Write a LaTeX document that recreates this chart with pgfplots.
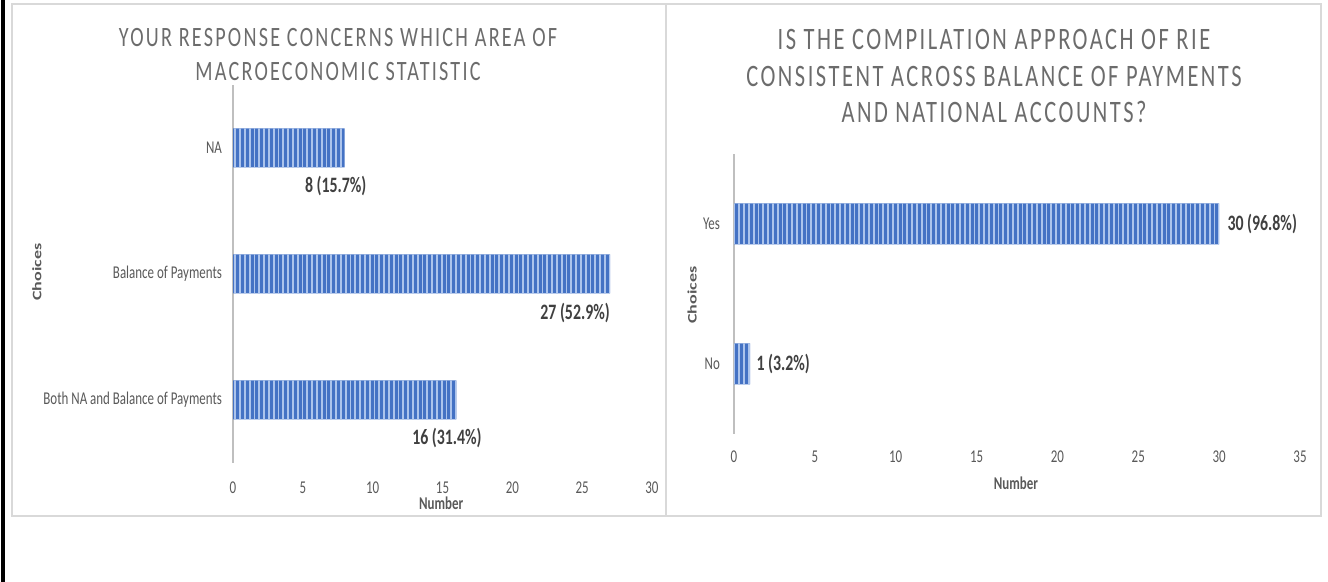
\documentclass[border=0pt]{standalone}
\usepackage{pgfplots}
\pgfplotsset{compat=1.18}
\usetikzlibrary{patterns.meta}
\usepackage{fontspec}
\setmainfont{Carlito}[FakeStretch=0.72]
\newfontfamily\widefont{Carlito}
\newfontfamily\titlefont{Carlito}[FakeStretch=0.72,LetterSpace=8]

\definecolor{barblue}{RGB}{68,114,196}
\definecolor{barlight}{RGB}{172,196,236}
\definecolor{framegray}{RGB}{217,217,217}
\definecolor{axisgray}{RGB}{191,191,191}
\definecolor{tickgray}{RGB}{89,89,89}
\definecolor{titlegray}{RGB}{108,108,108}
\definecolor{labeldark}{RGB}{64,64,64}

\tikzset{
  dlabel/.style={font=\bfseries\fontsize{11pt}{12pt}\selectfont, text=labeldark, inner sep=0pt},
  striped bar/.style={
    draw=none, fill=barblue,
    postaction={pattern={Lines[angle=90, distance=2.4pt, line width=0.9pt]}, pattern color=barlight},
  },
}

\pgfplotsset{
  bar panel/.style={
    scale only axis, anchor=south west,
    xbar, xmin=0,
    axis lines*=left, axis line style={-},
    x axis line style={draw=none},
    y axis line style={draw=axisgray, line width=0.9pt},
    major tick length=0pt, tick style={draw=none},
    ytick=data,
    ticklabel style={font=\fontsize{9pt}{10pt}\selectfont, text=tickgray},
    /pgf/number format/assume math mode=true,
    xlabel style={font=\bfseries\fontsize{9pt}{10pt}\selectfont, text=tickgray, anchor=center},
    ylabel style={font=\widefont\bfseries\fontsize{9pt}{10pt}\selectfont, text=tickgray, anchor=center},
    clip=false,
  },
}

\begin{document}
\begin{tikzpicture}
\path[use as bounding box] (0pt,0pt) rectangle (664pt,291pt);

% panel frames
\draw[framegray, line width=0.8pt] (6pt,33pt) rectangle (333pt,289pt);
\draw[framegray, line width=0.8pt] (333pt,33pt) rectangle (660.5pt,289pt);
\draw[black, line width=2pt] (1.5pt,0pt) -- (1.5pt,291pt);

% titles
\node[align=center, font=\titlefont\fontsize{14pt}{17pt}\selectfont, text=titlegray]
  at (169pt,263.5pt) {YOUR RESPONSE CONCERNS WHICH AREA OF\\MACROECONOMIC STATISTIC};
\node[align=center, font=\titlefont\fontsize{15.6pt}{18.25pt}\selectfont, text=titlegray]
  at (497pt,252.75pt) {IS THE COMPILATION APPROACH OF RIE\\CONSISTENT ACROSS BALANCE OF PAYMENTS\\AND NATIONAL ACCOUNTS?};

% left panel: area of macroeconomic statistic
\begin{axis}[bar panel,
  at={(116.5pt,59.5pt)}, width=209.5pt, height=189pt,
  xmax=30, xtick={0,5,...,30},
  ymin=-0.5, ymax=2.5, bar width=19.5pt,
  yticklabels={Both NA and Balance of Payments, Balance of Payments, NA},
  xticklabel style={yshift=-6pt},
  yticklabel style={xshift=-2pt},
  xlabel={Number}, xlabel style={at={(axis description cs:0.497,-0.106)}},
  ylabel={\scalebox{1}[0.72]{Choices}}, ylabel style={at={(axis description cs:-0.468,0.505)}},
]
\addplot[striped bar] coordinates {(16,0) (27,1) (8,2)};
\node[dlabel, xshift=-4.5pt, yshift=-19pt] at (axis cs:8,2) {8 (15.7\%)};
\node[dlabel, xshift=-17.5pt, yshift=-19.5pt] at (axis cs:27,1) {27 (52.9\%)};
\node[dlabel, xshift=-4.75pt, yshift=-19pt] at (axis cs:16,0) {16 (31.4\%)};
\end{axis}

% right panel: consistency of compilation approach
\begin{axis}[bar panel,
  at={(367pt,74pt)}, width=283pt, height=140pt,
  xmax=35, xtick={0,5,...,35},
  ymin=-0.5, ymax=1.5, bar width=20.5pt,
  yticklabels={No, Yes},
  xticklabel style={yshift=-5pt},
  yticklabel style={xshift=-3.5pt},
  xlabel={Number}, xlabel style={at={(axis description cs:0.498,-0.175)}},
  ylabel={\scalebox{1}[0.72]{Choices}}, ylabel style={at={(axis description cs:-0.074,0.496)}},
]
\addplot[striped bar] coordinates {(1,0) (30,1)};
\node[dlabel, anchor=west, xshift=4pt] at (axis cs:30,1) {30 (96.8\%)};
\node[dlabel, anchor=west, xshift=3pt] at (axis cs:1,0) {1 (3.2\%)};
\end{axis}
\end{tikzpicture}
\end{document}
